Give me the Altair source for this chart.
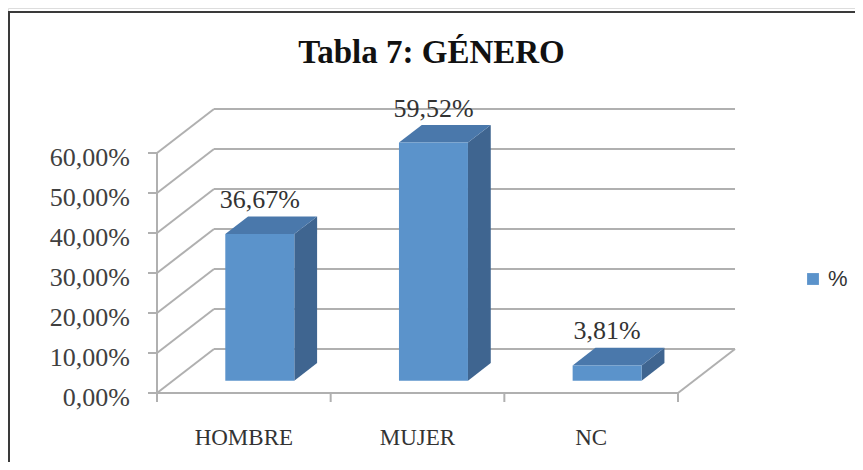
import altair as alt
import pandas as pd

# ---------------- data ----------------
categories = ["HOMBRE", "MUJER", "NC"]
values = [36.67, 59.52, 3.81]
series_name = "%"
y_ticks = [0, 10, 20, 30, 40, 50, 60]
title_text = "Tabla 7: GÉNERO"

# ---------------- geometry (styles) ----------------
W, H = 847, 454
KX = 173.67          # px per category slot
KY = 4.0             # px per percentage point
X0, Y0 = 149, 385    # origin of the front plane inside the canvas
xs = alt.Scale(domain=[-X0 / KX, (W - X0) / KX], nice=False, zero=False)
ys = alt.Scale(domain=[(Y0 - H) / KY, Y0 / KY], nice=False, zero=False)

DX, DY = 57 / KX, 44 / KY    # depth of the floor / side wall
F, G = 0.28, 0.40            # bar front depth and bar depth (fractions)
BW = 69 / KX                 # bar width
TICK_X, TICK_Y = 9 / KX, 9 / KY
LABEL_OFF = 34 / KY

GRID = "#B0B0B0"
FRONT, SIDE, TOP = "#5B93CB", "#3F6590", "#4A78AB"
SERIF = "Liberation Serif"

n = len(categories)
top_v = max(y_ticks)


def fmt(v):
    return f"{v:.2f}".replace(".", ",") + "%"


def X(f):
    return alt.X(f, type="quantitative", scale=xs, axis=None)


def Y(f):
    return alt.Y(f, type="quantitative", scale=ys, axis=None)


# walls / floor rules
rules = []
for v in y_ticks:
    rules.append(dict(x=DX, x2=n + DX, y=v + DY, y2=v + DY))      # back grid
    rules.append(dict(x=0, x2=DX, y=v, y2=v + DY))                # side wall
    rules.append(dict(x=-TICK_X, x2=0, y=v, y2=v))                # y ticks
rules.append(dict(x=0, x2=0, y=0, y2=top_v))                      # y axis line
rules.append(dict(x=0, x2=n, y=0, y2=0))                          # front floor
rules.append(dict(x=n, x2=n + DX, y=0, y2=DY))                    # right floor
for i in range(n + 1):
    rules.append(dict(x=i, x2=i, y=0, y2=-TICK_Y))                # x ticks
rules_df = pd.DataFrame(rules)

bars = pd.DataFrame({"cat": categories, "value": values, "series": series_name})
bars["c"] = [i + 0.5 for i in range(n)]
bars["xl"] = bars["c"] - BW / 2 + F * DX
bars["xr"] = bars["c"] + BW / 2 + F * DX
bars["yb"] = F * DY
bars["yt"] = F * DY + bars["value"]
bars["lx"] = bars["c"] + F * DX
bars["ly"] = bars["yt"] + LABEL_OFF
bars["label"] = [fmt(v) for v in values]

side_rows, top_rows = [], []
for r in bars.to_dict("records"):
    side_rows.append(dict(cat=r["cat"], x=r["xr"], y=r["yb"], y2=r["yt"]))
    side_rows.append(dict(cat=r["cat"], x=r["xr"] + G * DX, y=r["yb"] + G * DY, y2=r["yt"] + G * DY))
    top_rows.append(dict(cat=r["cat"], y=r["yt"], x=r["xl"], x2=r["xr"]))
    top_rows.append(dict(cat=r["cat"], y=r["yt"] + G * DY, x=r["xl"] + G * DX, x2=r["xr"] + G * DX))
side_df = pd.DataFrame(side_rows)
top_df = pd.DataFrame(top_rows)

ylab = pd.DataFrame({"v": y_ticks, "t": [fmt(v) for v in y_ticks]})
ylab["x"] = -(TICK_X + 18 / KX)
xlab = pd.DataFrame({"cat": categories, "c": [i + 0.5 for i in range(n)]})
xlab["y"] = -45 / KY

# ---------------- layers ----------------
frame_v = alt.Chart(pd.DataFrame({"a": [0]})).mark_rule(color="#3A3A3A", strokeWidth=2).encode(
    x=alt.value(1), y=alt.value(4), y2=alt.value(H))
frame_h = alt.Chart(pd.DataFrame({"a": [0]})).mark_rule(color="#3A3A3A", strokeWidth=2).encode(
    x=alt.value(0), x2=alt.value(W), y=alt.value(4))

grid = alt.Chart(rules_df).mark_rule(color=GRID, strokeWidth=2).encode(
    x=X("x"), x2="x2", y=Y("y"), y2="y2")

side = alt.Chart(side_df).mark_area(orient="vertical", color=SIDE).encode(
    x=X("x"), y=Y("y"), y2="y2", detail="cat:N")
topf = alt.Chart(top_df).mark_area(orient="horizontal", color=TOP).encode(
    y=Y("y"), x=X("x"), x2="x2", detail="cat:N")
front = alt.Chart(bars).mark_rect().encode(
    x=X("xl"), x2="xr", y=Y("yb"), y2="yt",
    color=alt.Color("series:N", scale=alt.Scale(range=[FRONT]),
                    legend=alt.Legend(title=None, orient="none", legendX=794, legendY=260,
                                      symbolType="square", symbolSize=140, symbolStrokeWidth=0,
                                      labelFont="Liberation Sans", labelFontSize=22,
                                      labelColor="#333333", padding=0)))

dlabels = alt.Chart(bars).mark_text(font=SERIF, fontSize=26, color="#333333", baseline="middle").encode(
    x=X("lx"), y=Y("ly"), text="label:N")
ylabels = alt.Chart(ylab).mark_text(font=SERIF, fontSize=26, color="#404040", align="right",
                                    baseline="middle", dy=5).encode(
    x=X("x"), y=Y("v"), text="t:N")
xlabels = alt.Chart(xlab).mark_text(font=SERIF, fontSize=23, color="#333333", baseline="middle").encode(
    x=X("c"), y=Y("y"), text="cat:N")

chart = alt.layer(frame_v, frame_h, grid, side, topf, front, dlabels, ylabels, xlabels).properties(
    width=W, height=H, autosize="none", padding=0,
    title=alt.TitleParams(title_text, font=SERIF, fontSize=33, fontWeight="bold", color="#111111",
                          anchor="middle", frame="group", offset=0, baseline="alphabetic", dy=88),
).configure_view(stroke=None).configure(background="white")

chart.save("out.html", embed_options={"renderer": "svg", "actions": False})
